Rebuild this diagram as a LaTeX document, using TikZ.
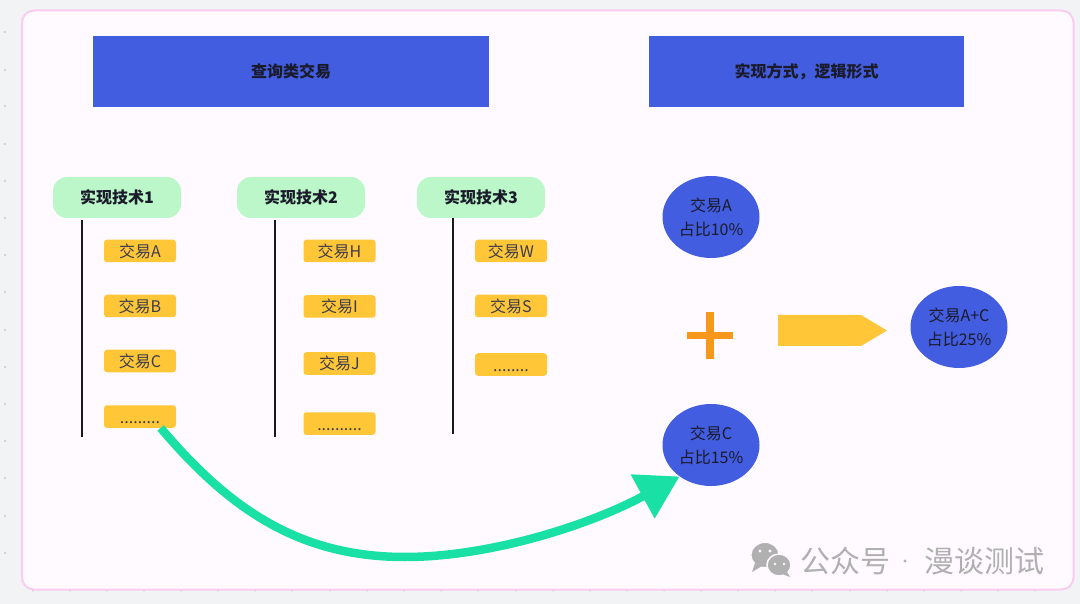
\documentclass[tikz,border=0pt]{standalone}
\usepackage{fontspec}
\setmainfont{Noto Sans CJK SC}
\usetikzlibrary{arrows.meta,shapes.geometric}
\definecolor{pagebg}{HTML}{F2F3F5}
\definecolor{framefill}{HTML}{FFFAFF}
\definecolor{framedraw}{HTML}{F9CDEF}
\definecolor{hblue}{HTML}{425DDF}
\definecolor{tgreen}{HTML}{BBF7C8}
\definecolor{torange}{HTML}{FFC637}
\definecolor{plusorange}{HTML}{F7981D}
\definecolor{sea}{HTML}{19E0A5}
\definecolor{ink}{HTML}{1A1A2A}
\definecolor{wm}{HTML}{B0B0B0}
\tikzset{
  header/.style={rectangle,fill=hblue,inner sep=0pt,text=ink,text height=14pt,text depth=1pt,font=\fontsize{16}{18}\selectfont\bfseries},
  tech/.style={rectangle,rounded corners=14pt,fill=tgreen,minimum width=128pt,minimum height=41pt,inner sep=0pt,text=ink,text height=14pt,text depth=1pt,font=\fontsize{16}{18}\selectfont\bfseries},
  deal/.style={rectangle,rounded corners=3pt,fill=torange,minimum width=72pt,minimum height=22.5pt,inner sep=0pt,text=ink!85,text height=14pt,text depth=1pt,font=\fontsize{16}{18}\selectfont},
  share/.style={ellipse,fill=hblue,minimum width=97pt,minimum height=82pt,inner sep=0pt,text=ink,align=center,font=\fontsize{16}{24}\selectfont},
  vline/.style={line width=2.4pt,black!90},
  flow/.style={line width=8.5pt,sea,-{Triangle[length=42pt,width=48pt,fill=sea]}},
  wmtext/.style={anchor=west,inner sep=0pt,text=wm,font=\fontsize{30}{32}\selectfont},
}
\begin{document}
\begin{tikzpicture}[x=1pt,y=-1pt]
\useasboundingbox (0,0) rectangle (1080,604);
\fill[pagebg] (0,0) rectangle (1080,604);
\foreach \y in {32,70,106,144,181,218,255,292,330,367,404,441,478,516,553}
  \fill[black!20] (5,\y) circle (1.2pt);
\foreach \x in {33,70,107,144,181,218,255,292,330,367,404,441,478,516,553,590,627,664,701,738,775,812,850,887,924,961,998,1035}
  \fill[black!20] (\x,590.5) circle (1pt);
\draw[framedraw,fill=framefill,line width=2pt,rounded corners=12pt] (22,10.5) rectangle (1073.5,589.5);

\node[header,minimum width=396pt,minimum height=71pt] (h1) at (291,71.5) {查询类交易};
\node[header,minimum width=315pt,minimum height=71pt] (h2) at (806.5,71.5) {实现方式，逻辑形式};

\node[tech] (t1) at (117,197.5) {实现技术1};
\node[tech] (t2) at (301,197.5) {实现技术2};
\node[tech] (t3) at (481,197.5) {实现技术3};

\coordinate (l1a) at (82,220); \coordinate (l1b) at (82,437);
\coordinate (l2a) at (275,220); \coordinate (l2b) at (275,437);
\coordinate (l3a) at (453,218); \coordinate (l3b) at (453,434);
\draw[vline] (l1a) -- (l1b);
\draw[vline] (l2a) -- (l2b);
\draw[vline] (l3a) -- (l3b);

\node[deal] (a) at (140,251) {交易A};
\node[deal] (b) at (140,306) {交易B};
\node[deal] (c) at (140,361) {交易C};
\node[deal] (d1) at (140,416.5) {.........};
\node[deal] (h) at (339.5,251) {交易H};
\node[deal] (i) at (339.5,306.5) {交易I};
\node[deal] (j) at (339.5,363.5) {交易J};
\node[deal] (d2) at (339.5,423.5) {..........};
\node[deal] (w) at (511,251) {交易W};
\node[deal] (s) at (511,306) {交易S};
\node[deal] (d3) at (511,364.5) {........};

\node[share] (ea) at (711,217) {交易A\\占比10\%};
\node[share] (ec) at (711,445) {交易C\\占比15\%};
\node[share] (eac) at (959,327) {交易A+C\\占比25\%};

\fill[plusorange] (706,312) rectangle (713.5,359);
\fill[plusorange] (687,332) rectangle (732.5,339);
\fill[torange] (778,315) -- (861,315) -- (887,330.5) -- (861,346) -- (778,346) -- cycle;

\draw[flow] (d1.-29) .. controls (230,510) and (300,557) .. (405,557)
   .. controls (490,557) and (590,525) .. (ec.225);

% watermark
\fill[wm,draw=framefill,line width=1pt] (765,555) ellipse (14pt and 12.5pt);
\fill[wm] (755,563) -- (752,572) -- (762,566) -- cycle;
\fill[wm,draw=framefill,line width=1.5pt] (779,565) ellipse (12pt and 11pt);
\fill[wm] (787,572) -- (790,577) -- (782,574) -- cycle;
\fill[framefill] (760,551) circle (1.7pt) (770,551) circle (1.7pt) (775,564) circle (1.4pt) (784,564) circle (1.4pt);
\node[wmtext] (wm1) at (800,561) {公众号};
\fill[wm] (905,561) circle (1.7pt);
\node[wmtext] (wm2) at (924,561) {漫谈测试};
\end{tikzpicture}
\end{document}
